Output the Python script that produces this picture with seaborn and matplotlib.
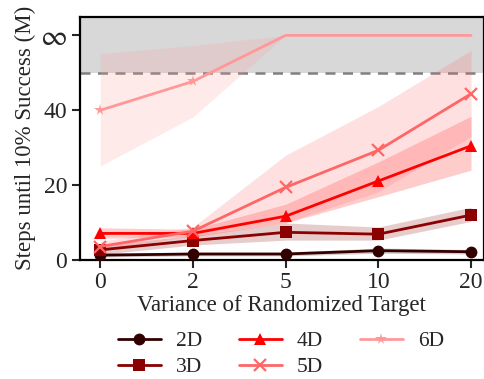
import numpy as np
import pandas as pd
import matplotlib
matplotlib.use("Agg")
import matplotlib.pyplot as plt
from matplotlib.lines import Line2D
import seaborn as sns

variances = ["0", "2", "5", "10", "20"]
dims = ["2D", "3D", "4D", "5D", "6D"]

mean_2d = [1.3, 1.6, 1.6, 2.5, 2.2]
low_2d = [0.8, 1.1, 1.1, 1.8, 1.6]
high_2d = [1.8, 2.1, 2.1, 3.2, 2.8]

mean_3d = [2.7, 5.2, 7.4, 6.9, 12.0]
low_3d = [1.5, 4.0, 5.3, 5.3, 10.3]
high_3d = [4.0, 6.5, 9.9, 8.8, 14.1]

mean_4d = [7.1, 7.1, 11.7, 21.1, 30.5]
low_4d = [5.8, 6.2, 9.9, 16.9, 24.0]
high_4d = [8.6, 8.2, 14.9, 26.2, 38.4]

mean_5d = [3.6, 7.7, 19.4, 29.3, 44.4]
low_5d = [2.5, 6.5, 10.0, 18.2, 33.0]
high_5d = [5.0, 8.8, 28.0, 41.0, 56.0]

mean_6d = [40.0, 47.7, 60.0, 60.0, 60.0]
low_6d = [25.1, 38.2, 60.0, 60.0, 60.0]
high_6d = [55.1, 57.3, 60.0, 60.0, 60.0]

means = [mean_2d, mean_3d, mean_4d, mean_5d, mean_6d]
lows = [low_2d, low_3d, low_4d, low_5d, low_6d]
highs = [high_2d, high_3d, high_4d, high_5d, high_6d]

colors = ["#330000", "#8b0000", "#ff0000", "#ff6666", "#ff9999"]
markers = ["o", "s", "^", "x", "*"]
msizes = [8.5, 8, 8.5, 8, 8.5]
markevery = [None, None, None, None, [0, 1]]

sns.set_style("ticks")
plt.rcParams["font.family"] = ["Liberation Serif", "DejaVu Serif"]
plt.rcParams["mathtext.fontset"] = "stix"
FS = 16.5

rows = []
for d, m in zip(dims, means):
    for i, v in enumerate(m):
        rows.append({"dim": d, "pos": i, "steps": v})
df = pd.DataFrame(rows)

fig = plt.figure(figsize=(4.84, 3.79), dpi=100)
ax = fig.add_axes([0.165, 0.314, 0.835, 0.642])

ax.axhspan(50, 65, color="gray", alpha=0.3, lw=0, zorder=0)
ax.axhline(50, color="gray", ls="--", lw=1.8, dashes=(4, 3), zorder=1)

xs = np.arange(len(variances))
for d, c, lo, hi in zip(dims, colors, lows, highs):
    ax.fill_between(xs, lo, hi, color=c, alpha=0.2, lw=0, zorder=2)

handles = []
for d, c, mk, ms, me in zip(dims, colors, markers, msizes, markevery):
    sub = df[df["dim"] == d]
    mew = 1.6 if mk == "x" else 0
    sns.lineplot(data=sub, x="pos", y="steps", ax=ax, color=c, marker=mk,
                 markersize=ms, linewidth=2.0, markeredgewidth=mew,
                 markeredgecolor=c, markevery=me, zorder=3, legend=False)
    handles.append(Line2D([], [], color=c, marker=mk, markersize=ms,
                          linewidth=2.0, markeredgewidth=mew,
                          markeredgecolor=c, label=d))

ax.set_xlim(-0.22, 4.14)
ax.set_ylim(0, 65)
ax.set_xticks(xs)
ax.set_xticklabels(variances)
ax.set_yticks([0, 20, 40, 60])
ax.set_yticklabels(["0", "20", "40", r"$\infty$"])
ax.tick_params(axis="both", labelsize=17, width=1.5, length=6, pad=3)
for lbl in ax.get_yticklabels():
    if lbl.get_text() == r"$\infty$":
        lbl.set_fontsize(21)
for s in ax.spines.values():
    s.set_linewidth(1.6)
    s.set_color("black")
ax.set_xlabel("Variance of Randomized Target", fontsize=FS, labelpad=1)
ax.set_ylabel("Steps until 10% Success (M)", fontsize=FS, labelpad=3)

fig.legend(handles=handles, loc="upper center", bbox_to_anchor=(0.58, 0.132),
           ncol=3, frameon=False, fontsize=15.5, handlelength=2.0,
           columnspacing=1.7, handletextpad=0.7, labelspacing=0.28,
           borderaxespad=0, borderpad=0.1)

fig.savefig("out.png", dpi=100)
